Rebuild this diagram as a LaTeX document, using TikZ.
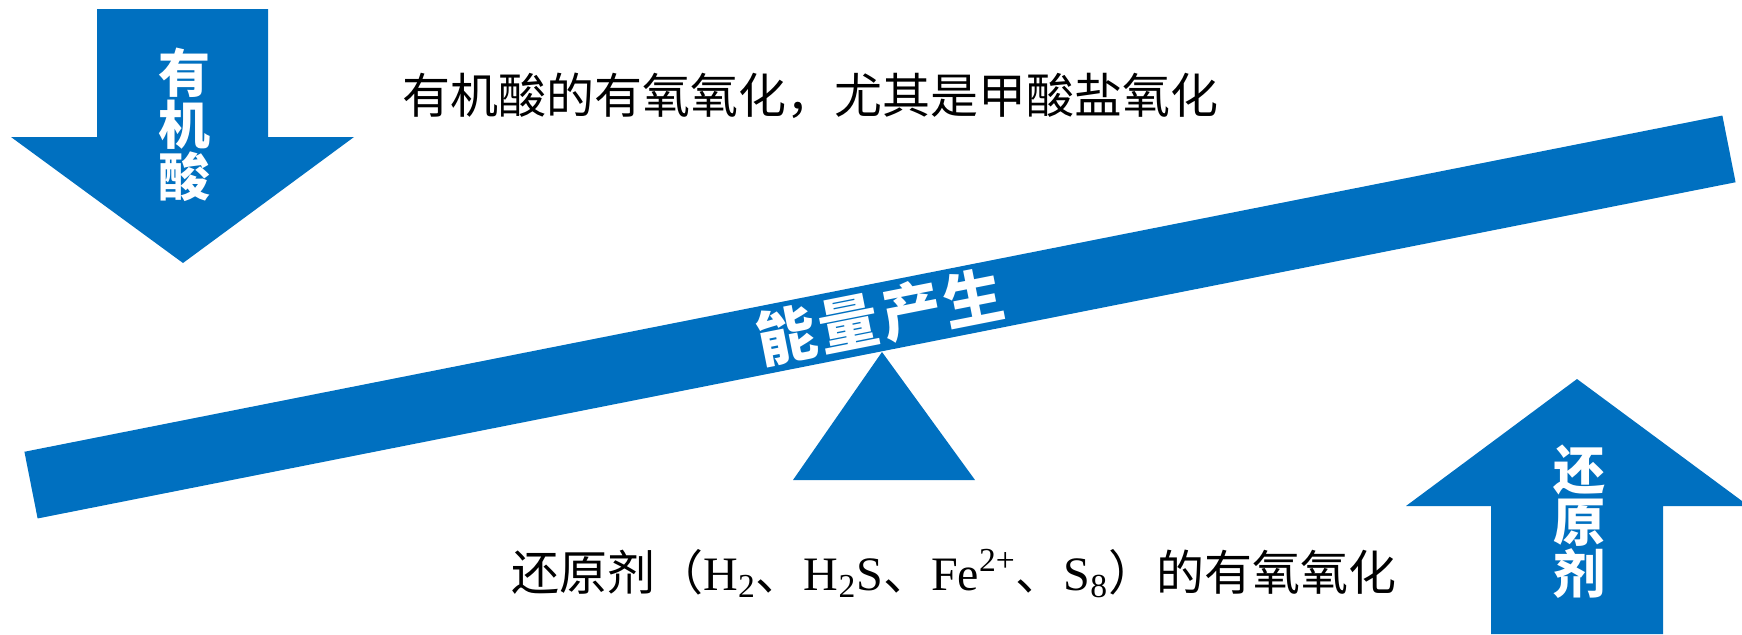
\documentclass[tikz,border=0pt]{standalone}
\usepackage{fontspec}
\setmainfont{Noto Sans CJK SC}
\newfontfamily\timesfont{Liberation Serif}
\newfontfamily\beamfont[LetterSpace=6]{Noto Sans CJK SC}
\definecolor{seesawblue}{HTML}{0070C0}

\begin{document}
\begin{tikzpicture}[x=0.5pt, y=-0.5pt,
    arrowlabel/.style={text=white, font=\bfseries\fontsize{26}{26}\selectfont, align=center, inner sep=0pt},
    plaintext/.style={font=\fontsize{24}{24}\selectfont, inner sep=0pt, anchor=base west}]
    \useasboundingbox (0,0) rectangle (1742,634);

    % arrows at the two ends
    \fill[seesawblue] (97,9) -- (268,9) -- (268,137) -- (354,137) -- (183,263) -- (11,137) -- (97,137) -- cycle;
    \fill[seesawblue] (1491,634) -- (1491,506) -- (1406,506) -- (1577,379) -- (1742,501) -- (1742,506) -- (1663,506) -- (1663,634) -- cycle;
    \node[arrowlabel] at (184,125) (organicacid) {有\\机\\酸};
    \node[arrowlabel] at (1579,522) (reductant) {还\\原\\剂};

    % beam and pivot
    \fill[seesawblue] (882,352) -- (975,480) -- (793,480) -- cycle;
    \node[fill=seesawblue, rotate=11.2, minimum width=865.5pt, minimum height=34pt, inner sep=0pt, text=white, font=\beamfont\bfseries\fontsize{30}{30}\selectfont] at (880,317) (beam) {能量产生};

    \node[plaintext] at (402,113) (acidtext) {有机酸的有氧氧化，尤其是甲酸盐氧化};
    \node[plaintext] at (511,590) (reductanttext) {还原剂（{\timesfont H\textsubscript{2}}、{\timesfont H\textsubscript{2}S}、{\timesfont Fe\textsuperscript{2+}}、{\timesfont S\textsubscript{8}}）的有氧氧化};
\end{tikzpicture}
\end{document}
